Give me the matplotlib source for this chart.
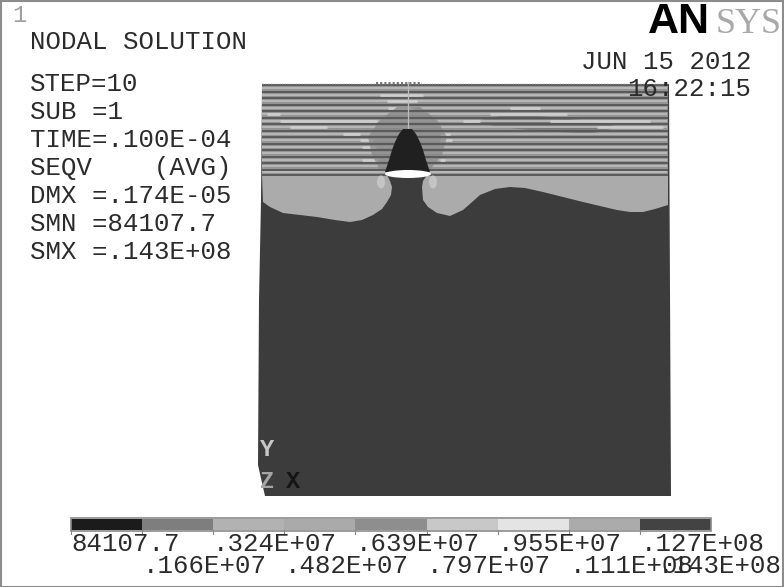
import matplotlib
matplotlib.use("Agg")
import matplotlib.pyplot as plt
from matplotlib.patches import Polygon, Rectangle, Ellipse

# values in the contour legend
band_colors = ['#1b1b1b', '#7e7e7e', '#b2b2b2', '#aaaaaa', '#8e8e8e', '#c8c8c8', '#e4e4e4', '#ababab', '#434343']
labels_top = ['84107.7', '.324E+07', '.639E+07', '.955E+07', '.127E+08']
labels_top_x = [71, 213, 356, 498, 641]
labels_bottom = ['.166E+07', '.482E+07', '.797E+07', '.111E+08', '.143E+08']
labels_bottom_x = [143, 285, 427, 570, 658]
info_lines = ['NODAL SOLUTION', 'STEP=10', 'SUB =1', 'TIME=.100E-04', 'SEQV    (AVG)',
              'DMX =.174E-05', 'SMN =84107.7', 'SMX =.143E+08']
info_y = [42, 84, 112, 140, 168, 196, 224, 252]

# outlines, in image pixels
domain_x = [262, 669, 671, 265, 258, 259, 261]
domain_y = [84, 84, 496, 496, 465, 300, 200]
left_lobe_x = [262, 263, 270, 283, 300, 317, 335, 350, 362, 373, 382, 387, 391, 392, 390, 387, 262]
left_lobe_y = [175, 202, 207, 213, 215, 217, 220, 222, 220, 215, 209, 202, 195, 187, 181, 175, 175]
right_lobe_x = [427, 423, 422, 423, 428, 437, 450, 463, 471, 480, 495, 510, 525, 543, 563, 583,
                600, 617, 630, 643, 655, 668, 668, 427]
right_lobe_y = [175, 181, 187, 200, 207, 213, 216, 210, 203, 195, 189, 187, 188, 192, 197, 202,
                206, 210, 212, 212, 209, 205, 175, 175]
bell_x = [403, 412, 416, 420, 423, 426, 430, 385, 389, 392, 395, 399, 403]
bell_y = [129, 129, 134, 142, 150, 160, 172, 172, 160, 150, 142, 134, 129]
dome_x = [397, 420, 437, 447, 442, 430, 380, 372, 368, 380, 397]
dome_y = [107, 107, 120, 137, 155, 170, 170, 155, 137, 120, 107]
lens_x = [500, 540, 590, 620, 590, 530, 500, 470]
lens_y = [116, 116, 121, 127, 134, 130, 127, 122]
stripe_y = [85, 91.5, 98, 104.5, 111, 117.5, 124, 130.5, 137, 143.5, 150, 156.5, 163, 169.5, 174.5]
pale_y = [88, 94.7, 101, 107.8, 114.3, 120.8, 127.3, 133.8, 140.3, 146.8, 153.3, 159.8, 166.3, 172]
# brighter pieces between the stripes: from x, to x, line y
pale_from = [380, 387, 388, 510, 490, 550, 597, 267, 280, 290, 343, 360, 440, 463, 362, 440, 362, 440]
pale_to = [423, 417, 413, 540, 567, 650, 663, 280, 377, 327, 360, 373, 450, 480, 376, 452, 378, 445]
pale_at = [94.7, 101, 107.8, 107.8, 114.3, 120.8, 127.3, 114.3, 120.8, 127.3, 133.8, 140.3, 133.8, 120.8,
           146.8, 140.3, 159.8, 159.8]

fig = plt.figure(figsize=(7.84, 5.87), dpi=100)
ax = fig.add_axes([0, 0, 1, 1])
ax.set_xlim(0, 784)
ax.set_ylim(587, 0)
ax.axis('off')
ax.add_patch(Rectangle((0.5, 0.5), 783, 586, fc='white', ec='#8c8c8c', lw=1.5))

# model
ax.add_patch(Polygon(list(zip(domain_x, domain_y)), fc='#3c3c3c', ec='none'))
ax.add_patch(Rectangle((262, 84), 406, 91, fc='#949494', ec='none'))
ax.add_patch(Polygon(list(zip(left_lobe_x, left_lobe_y)), fc='#ababab', ec='none'))
ax.add_patch(Polygon(list(zip(right_lobe_x, right_lobe_y)), fc='#ababab', ec='none'))
ax.add_patch(Polygon(list(zip(lens_x, lens_y)), fc='#7c7c7c', ec='none'))
for y in pale_y:
    ax.plot([262, 667], [y, y], color='#b8b8b8', lw=1.4, solid_capstyle='butt', zorder=1.2)
for a, b, y in zip(pale_from, pale_to, pale_at):
    ax.plot([a, b], [y, y], color='#cfcfcf', lw=1.9, solid_capstyle='butt', zorder=1.3)
ax.add_patch(Polygon(list(zip(dome_x, dome_y)), fc='#858585', ec='none', alpha=0.7, zorder=1.5))
for y in stripe_y:
    ax.plot([262, 668], [y, y], color='#555555', lw=1.3, solid_capstyle='butt', zorder=2)
ax.add_patch(Polygon(list(zip(bell_x, bell_y)), fc='#202020', ec='none', zorder=3))
ax.add_patch(Ellipse((408, 174), 46, 8, fc='white', ec='none', zorder=3))
ax.add_patch(Ellipse((381, 182), 8, 13, fc='#c4c4c4', ec='none', zorder=3))
ax.add_patch(Ellipse((433, 182), 8, 13, fc='#c4c4c4', ec='none', zorder=3))
ax.plot([408, 408], [82, 128], color='#bcbcbc', lw=0.9, zorder=2.5)
ax.plot([376, 422], [83, 83], color='#777777', lw=1.5, ls=(0, (1, 1)))
ax.plot([262, 668], [84, 84], color='#777777', lw=1.0, ls=(0, (1, 1)))

font = dict(family='Liberation Mono', color='#2b2b2b', fontsize=18.5, va='center', ha='left', zorder=5)

# left info block
for line, y in zip(info_lines, info_y):
    ax.text(30, y, line, **font)

ax.text(12, 15, '1', family='Liberation Mono', color='#a0a0a0', fontsize=17, va='center')
ax.text(581, 62, 'JUN 15 2012', **font)
ax.text(627, 89, '16:22:15', **font)

# triad
ax.text(260, 450, 'Y', family='Liberation Mono', color='#c8c8c8', fontsize=17, va='center', fontweight='bold')
ax.text(260, 481, 'Z', family='Liberation Mono', color='#a5a5a5', fontsize=17, va='center', fontweight='bold')
ax.text(286, 481, 'X', family='Liberation Mono', color='#151515', fontsize=17, va='center', fontweight='bold')

# logo
ax.text(648, 33, 'AN', family='Liberation Sans', fontweight='bold', color='black', fontsize=31, va='baseline', ha='left')
ax.text(716, 33, 'SYS', family='Liberation Serif', color='#a8a8a8', fontsize=26, va='baseline', ha='left')

# legend bar
seg_w = 640 / len(band_colors)
for i, c in enumerate(band_colors):
    ax.add_patch(Rectangle((71 + i * seg_w, 519), seg_w, 11, fc=c, ec='none'))
    ax.plot([71 + i * seg_w] * 2, [530, 534], color='#888888', lw=0.8)
ax.add_patch(Rectangle((71, 518), 640, 12.5, fc='none', ec='#8a8a8a', lw=1.2))
for x, t in zip(labels_top_x, labels_top):
    ax.text(x, 544, t, **font)
for x, t in zip(labels_bottom_x, labels_bottom):
    ax.text(x, 566, t, **font)

fig.savefig('out.png', dpi=100)
